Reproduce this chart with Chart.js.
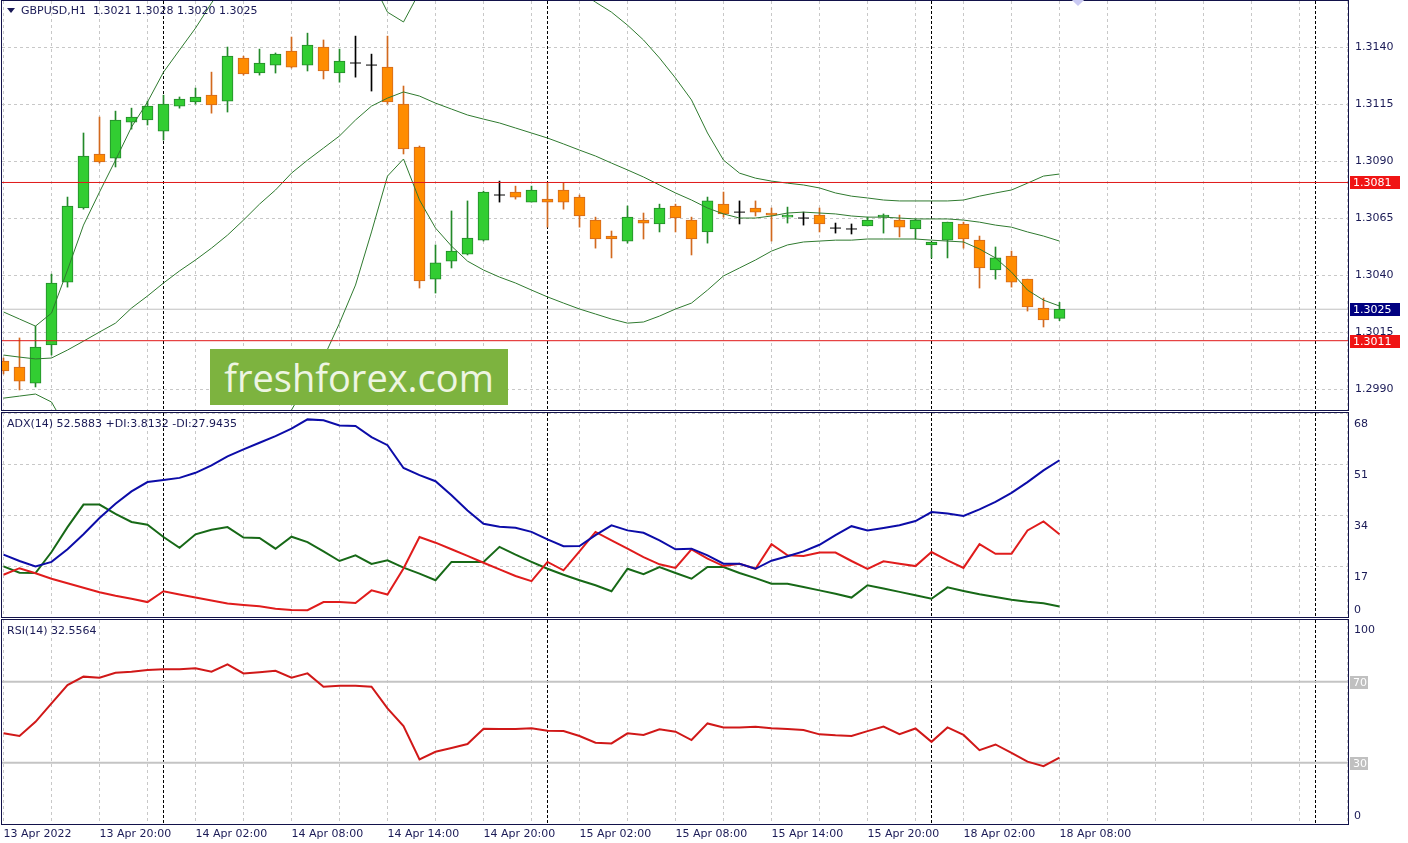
<!DOCTYPE html>
<html>
<head>
<meta charset="utf-8">
<title>GBPUSD,H1</title>
<script src="https://cdn.jsdelivr.net/npm/chart.js@4.4.1/dist/chart.umd.min.js"></script>
<style>
  html, body { margin:0; padding:0; background:#ffffff; }
  body { width:1408px; height:843px; position:relative; overflow:hidden; font-family:"DejaVu Sans", sans-serif; }
  canvas { position:absolute; left:0; }
  #mainCanvas { top:0; }
  #adxCanvas { top:412px; }
  #rsiCanvas { top:619px; }
  .hdr { position:absolute; font-size:11px; line-height:13px; color:#1a1a56; white-space:pre; }
  #tri { position:absolute; left:7px; top:8px; width:0; height:0; border-left:4px solid transparent; border-right:4px solid transparent; border-top:5px solid #1a1a56; }
  #wm { position:absolute; left:210px; top:349px; width:298px; height:56px; background:#7db33f; color:#eef5e2; font-family:"Open Sans", sans-serif; font-size:38px; display:flex; align-items:center; justify-content:center; }
  #obj { position:absolute; left:1073px; top:-6px; width:10px; height:10px; background:#c9c9f2; transform:rotate(45deg); }
</style>
</head>
<body>
<canvas id="mainCanvas" width="1408" height="412"></canvas>
<canvas id="adxCanvas" width="1408" height="207"></canvas>
<canvas id="rsiCanvas" width="1408" height="224"></canvas>
<div id="tri"></div>
<div class="hdr" id="mainHdr" style="left:21px;top:4px;"></div>
<div class="hdr" id="adxHdr" style="left:7px;top:417px;"></div>
<div class="hdr" id="rsiHdr" style="left:7px;top:624px;"></div>
<div id="wm">freshforex.com</div>
<div id="obj"></div>
<script>
// ---------------- DATA ----------------
const symbol = 'GBPUSD,H1';
// hourly bars, bar 0 = 13 Apr 2022 14:00 ... bar 66 = 18 Apr 08:00
const tickBars   = [0, 6, 12, 18, 24, 30, 36, 42, 48, 54, 60, 66];
const tickLabels = ['13 Apr 2022','13 Apr 20:00','14 Apr 02:00','14 Apr 08:00','14 Apr 14:00','14 Apr 20:00',
                    '15 Apr 02:00','15 Apr 08:00','15 Apr 14:00','15 Apr 20:00','18 Apr 02:00','18 Apr 08:00'];
const daySeparatorBars = [10, 34, 58, 82];

const open = [
 1.30023,1.29996,1.29926,1.30093,1.30369,1.30694,1.30931,1.30913,1.31071,1.31080,
 1.31031,1.31141,1.31159,1.31189,1.31163,1.31352,1.31286,1.31321,1.31382,1.31321,
 1.31400,1.31286,1.31330,1.31321,1.31312,1.31150,1.30961,1.30382,1.30461,1.30492,
 1.30553,1.30751,1.30764,1.30720,1.30733,1.30773,1.30742,1.30641,1.30571,1.30549,
 1.30641,1.30624,1.30703,1.30641,1.30589,1.30711,1.30676,1.30694,1.30672,1.30654,
 1.30650,1.30663,1.30606,1.30602,1.30615,1.30654,1.30641,1.30602,1.30532,1.30553,
 1.30624,1.30553,1.30422,1.30483,1.30382,1.30255,1.30210];
const high = [
 1.30036,1.30124,1.30176,1.30404,1.30742,1.31023,1.31093,1.31119,1.31132,1.31163,
 1.31189,1.31181,1.31220,1.31290,1.31400,1.31360,1.31391,1.31374,1.31444,1.31461,
 1.31431,1.31391,1.31448,1.31369,1.31448,1.31229,1.30966,1.30532,1.30681,1.30725,
 1.30768,1.30812,1.30790,1.30790,1.30803,1.30803,1.30751,1.30654,1.30593,1.30703,
 1.30672,1.30711,1.30711,1.30654,1.30742,1.30764,1.30725,1.30725,1.30694,1.30698,
 1.30676,1.30694,1.30628,1.30624,1.30654,1.30668,1.30663,1.30646,1.30545,1.30632,
 1.30632,1.30571,1.30523,1.30505,1.30382,1.30299,1.30280];
const low = [
 1.29966,1.29896,1.29909,1.30049,1.30347,1.30689,1.30891,1.30874,1.31040,1.31058,
 1.30992,1.31132,1.31150,1.31110,1.31115,1.31277,1.31277,1.31286,1.31308,1.31295,
 1.31260,1.31246,1.31268,1.31207,1.31150,1.30931,1.30343,1.30321,1.30431,1.30488,
 1.30549,1.30720,1.30733,1.30720,1.30610,1.30689,1.30610,1.30518,1.30475,1.30540,
 1.30558,1.30589,1.30589,1.30488,1.30540,1.30654,1.30624,1.30659,1.30549,1.30628,
 1.30619,1.30589,1.30584,1.30580,1.30615,1.30584,1.30567,1.30558,1.30475,1.30475,
 1.30518,1.30343,1.30382,1.30347,1.30242,1.30172,1.30200];
const close = [
 1.29979,1.29935,1.30084,1.30365,1.30703,1.30922,1.30896,1.31080,1.31093,1.31141,
 1.31150,1.31172,1.31181,1.31146,1.31360,1.31282,1.31330,1.31369,1.31312,1.31409,
 1.31295,1.31339,1.31330,1.31321,1.31159,1.30953,1.30374,1.30453,1.30505,1.30562,
 1.30764,1.30751,1.30742,1.30773,1.30720,1.30720,1.30659,1.30558,1.30558,1.30654,
 1.30628,1.30694,1.30650,1.30558,1.30725,1.30668,1.30676,1.30676,1.30663,1.30663,
 1.30650,1.30624,1.30606,1.30602,1.30641,1.30663,1.30610,1.30641,1.30545,1.30632,
 1.30558,1.30431,1.30475,1.30369,1.30260,1.30203,1.30250];

const bbUpper = [
 1.30238,1.30207,1.30176,1.30233,1.30422,1.30619,1.30764,1.30904,1.31049,1.31159,
 1.31290,1.31387,1.31483,1.31593,1.31694,1.31760,1.31812,1.31847,1.31887,1.31878,
 1.31878,1.31830,1.31804,1.31694,1.31553,1.31510,1.31641,1.31703,1.31729,1.31742,
 1.31746,1.31742,1.31725,1.31711,1.31698,1.31672,1.31646,1.31597,1.31553,1.31496,
 1.31431,1.31352,1.31264,1.31168,1.31023,1.30904,1.30847,1.30825,1.30812,1.30803,
 1.30795,1.30782,1.30760,1.30746,1.30738,1.30729,1.30725,1.30725,1.30725,1.30725,
 1.30729,1.30746,1.30760,1.30773,1.30803,1.30834,1.30843];
const bbMiddle = [
 1.30049,1.30040,1.30032,1.30036,1.30071,1.30110,1.30150,1.30189,1.30255,1.30308,
 1.30365,1.30418,1.30466,1.30518,1.30575,1.30641,1.30711,1.30773,1.30847,1.30904,
 1.30957,1.31010,1.31080,1.31141,1.31176,1.31203,1.31185,1.31154,1.31128,1.31102,
 1.31084,1.31067,1.31045,1.31023,1.31001,1.30975,1.30948,1.30922,1.30891,1.30861,
 1.30830,1.30795,1.30760,1.30729,1.30694,1.30668,1.30650,1.30650,1.30659,1.30672,
 1.30676,1.30672,1.30668,1.30659,1.30654,1.30654,1.30650,1.30646,1.30646,1.30646,
 1.30641,1.30632,1.30619,1.30610,1.30589,1.30571,1.30549];
const bbLower = [
 1.29860,1.29869,1.29878,1.29843,1.29720,1.29602,1.29536,1.29475,1.29461,1.29457,
 1.29439,1.29448,1.29448,1.29435,1.29457,1.29523,1.29611,1.29698,1.29808,1.29931,
 1.30036,1.30189,1.30356,1.30589,1.30834,1.30909,1.30729,1.30606,1.30527,1.30461,
 1.30422,1.30391,1.30365,1.30334,1.30304,1.30277,1.30251,1.30229,1.30207,1.30189,
 1.30194,1.30220,1.30251,1.30277,1.30334,1.30396,1.30431,1.30466,1.30505,1.30532,
 1.30545,1.30549,1.30553,1.30553,1.30558,1.30558,1.30558,1.30558,1.30553,1.30549,
 1.30545,1.30514,1.30475,1.30413,1.30334,1.30290,1.30264];

const adx = [
 21.1,19.0,17.2,18.7,22.9,27.9,33.3,38.1,42.2,45.3,
 46.0,46.7,48.4,50.9,53.9,56.2,58.4,60.6,63.1,66.2,
 65.9,64.2,64.0,60.3,57.6,50.0,47.6,45.6,40.9,35.8,
 31.4,30.4,30.1,28.7,26.2,23.9,24.0,27.6,30.9,29.2,
 28.4,25.9,22.9,23.1,20.9,18.1,18.1,16.4,19.1,20.6,
 22.2,24.4,27.6,30.6,29.2,30.0,30.9,32.3,35.3,34.8,
 34.0,36.2,38.7,41.7,45.3,49.2,52.5883];
const plusDI = [
 17.2,15.1,15.0,22.0,30.3,37.8,37.8,34.7,32.0,31.1,
 27.0,23.4,27.9,29.4,30.3,26.8,26.7,23.1,27.1,25.3,
 22.2,19.0,20.9,18.0,19.2,16.8,14.8,12.6,18.7,18.7,
 18.7,23.7,21.1,18.7,16.4,14.4,12.6,10.9,8.9,16.4,
 14.6,17.0,15.0,13.1,17.0,17.0,15.0,13.3,11.4,11.4,
 10.3,9.2,8.1,6.8,10.9,9.8,8.7,7.6,6.4,10.2,
 9.0,7.9,7.0,6.1,5.4,4.9,3.8132];
const minusDI = [
 14.4,16.6,14.9,13.1,11.6,10.1,8.6,7.4,6.4,5.3,
 8.9,7.8,6.8,5.8,4.8,4.3,3.9,3.1,2.7,2.6,
 5.3,5.3,5.0,9.2,7.8,16.5,27.0,25.1,22.9,20.7,
 18.4,16.2,14.0,12.3,18.7,15.9,22.2,28.7,25.9,23.1,
 20.3,17.9,16.7,22.9,19.8,17.3,18.1,16.4,24.6,20.9,
 20.7,21.8,21.8,19.0,16.4,18.9,18.1,17.3,22.0,19.2,
 16.7,24.6,21.4,21.4,29.2,32.2,27.9435];
const rsi = [
 44.5,43.2,50.2,59.3,68.3,72.5,72.0,74.4,74.9,75.8,
 76.1,76.1,76.6,74.9,78.6,74.1,74.7,75.4,72.0,74.1,
 67.5,68.0,68.0,67.5,56.8,48.1,31.6,35.4,37.3,39.2,
 46.8,46.6,46.6,47.0,45.8,45.6,43.2,39.9,39.5,44.5,
 43.7,46.5,45.3,41.2,49.4,47.4,47.4,47.8,47.0,46.6,
 46.1,44.0,43.5,43.2,45.6,47.8,44.1,46.9,40.3,47.4,
 43.7,36.2,39.0,34.9,30.5,28.3,32.5564];

const priceTicks  = [1.2990, 1.3015, 1.3040, 1.3065, 1.3090, 1.3115, 1.3140];
const hLineLevels = [1.30806, 1.30112];
const bidPrice    = 1.3025;
const adxTicks    = [17, 34, 51, 68];
const rsiLevels   = [70, 30];

// axis ranges
const X_MIN = -0.09375, X_MAX = 84.03125;
const PRICE_MIN = 1.29808, PRICE_MAX = 1.31602;
const ADX_MIN = 0.33, ADX_MAX = 68.33;
const RSI_MIN = -0.27, RSI_MAX = 100.47;

// ---------------- STYLE ----------------
const FONT = { family: 'DejaVu Sans', size: 11 };
const TEXT = '#1a1a56';
const GRID = '#c8c8c8';
const FRAME = '#12124a';
const BULL_FILL = '#32cd32', BULL_LINE = '#23892a';
const BEAR_FILL = '#ff8c00', BEAR_LINE = '#d2691e';
const BB_COLOR = '#2f7a2f';
const LEVEL_RED = '#e01818';

// ---------------- BUILD ----------------
const last = open.length - 1;
document.getElementById('mainHdr').textContent =
  symbol + '  ' + [open[last], high[last], low[last], close[last]].map(v => v.toFixed(4)).join(' ');
document.getElementById('adxHdr').textContent =
  'ADX(14) ' + adx[last].toFixed(4) + ' +DI:' + plusDI[last].toFixed(4) + ' -DI:' + minusDI[last].toFixed(4);
document.getElementById('rsiHdr').textContent = 'RSI(14) ' + rsi[last].toFixed(4);

const idx = open.map((_, i) => i);
const isDoji = i => open[i] === close[i];
const series = arr => arr.map((v, i) => ({ x: i, y: v }));
const hline = v => [{ x: X_MIN, y: v }, { x: X_MAX, y: v }];

const wickData = idx.map(i => ({ x: i, y: [low[i], high[i]] }));
const wickColors = idx.map(i => isDoji(i) ? '#000000' : (close[i] > open[i] ? BULL_LINE : BEAR_LINE));
const bodyIdx = idx.filter(i => !isDoji(i));
const bodyData = bodyIdx.map(i => ({ x: i, y: [open[i], close[i]] }));
const bodyFill = bodyIdx.map(i => close[i] > open[i] ? BULL_FILL : BEAR_FILL);
const bodyLine = bodyIdx.map(i => close[i] > open[i] ? BULL_LINE : BEAR_LINE);
const dojiData = idx.filter(isDoji).map(i => ({ x: i, y: open[i] }));

const gridBars = [];
for (let b = 0; b <= 84; b += 3) gridBars.push(b);

function xAxis(withLabels) {
  return {
    type: 'linear', min: X_MIN, max: X_MAX, offset: false,
    afterBuildTicks: s => { s.ticks = gridBars.map(v => ({ value: v })); },
    grid: { display: true, color: GRID, lineWidth: 1, drawTicks: false, offset: false },
    border: { display: false, dash: [3, 3] },
    ticks: withLabels ? {
      display: true, autoSkip: false, maxRotation: 0, minRotation: 0, align: 'start',
      padding: 4, color: TEXT, font: FONT,
      callback: v => { const k = tickBars.indexOf(v); return k >= 0 ? tickLabels[k] : ''; }
    } : { display: false },
    afterFit: s => { s.height = withLabels ? 19 : 0; s.paddingLeft = 0; s.paddingRight = 0; }
  };
}

function decorPlugin(tags) {
  return {
    id: 'decor',
    beforeDatasetsDraw(chart) {
      const { ctx, chartArea: a } = chart; const xs = chart.scales.x;
      ctx.save();
      ctx.beginPath(); ctx.rect(a.left, a.top, a.right - a.left, a.bottom - a.top); ctx.clip();
      ctx.strokeStyle = '#000000'; ctx.lineWidth = 1; ctx.setLineDash([3, 2]);
      daySeparatorBars.forEach(b => {
        const px = Math.floor(xs.getPixelForValue(b)) + 0.5;
        ctx.beginPath(); ctx.moveTo(px, a.top); ctx.lineTo(px, a.bottom); ctx.stroke();
      });
      ctx.restore();
    },
    afterDraw(chart) {
      const { ctx, chartArea: a } = chart; const ys = chart.scales.y;
      ctx.save();
      ctx.strokeStyle = FRAME; ctx.lineWidth = 1; ctx.setLineDash([]);
      ctx.strokeRect(a.left - 0.5, a.top - 0.5, a.right - a.left + 1, a.bottom - a.top + 1);
      ctx.font = '11px "DejaVu Sans"'; ctx.textBaseline = 'middle'; ctx.textAlign = 'left';
      tags.forEach(t => {
        const py = Math.round(ys.getPixelForValue(t.value)) + (t.dy || 0);
        if (t.bg) {
          ctx.fillStyle = t.bg; ctx.fillRect(a.right + 2, py - 6, t.w, 13);
          ctx.fillStyle = t.fg; ctx.fillText(t.text, a.right + 5, py + 1);
        } else {
          ctx.fillStyle = TEXT; ctx.fillText(t.text, a.right + 6, py);
        }
      });
      ctx.restore();
    }
  };
}

const common = {
  responsive: false, animation: false, events: [],
  plugins: { legend: { display: false }, tooltip: { enabled: false } }
};

// ---- main price pane ----
new Chart(document.getElementById('mainCanvas'), {
  type: 'bar',
  data: {
    datasets: [
      { type: 'line', label: 'Line 1', data: hline(hLineLevels[0]), borderColor: LEVEL_RED, borderWidth: 1, pointRadius: 0, order: 0 },
      { type: 'line', label: 'Line 2', data: hline(hLineLevels[1]), borderColor: LEVEL_RED, borderWidth: 1, pointRadius: 0, order: 0 },
      { type: 'line', label: 'Bands upper', data: series(bbUpper), borderColor: BB_COLOR, borderWidth: 1, pointRadius: 0, tension: 0, order: 1 },
      { type: 'line', label: 'Bands middle', data: series(bbMiddle), borderColor: BB_COLOR, borderWidth: 1, pointRadius: 0, tension: 0, order: 1 },
      { type: 'line', label: 'Bands lower', data: series(bbLower), borderColor: BB_COLOR, borderWidth: 1, pointRadius: 0, tension: 0, order: 1 },
      { type: 'line', label: 'Doji', data: dojiData, showLine: false, pointStyle: 'line', pointRadius: 5.5, pointHoverRadius: 5.5,
        pointBorderColor: '#000000', pointBorderWidth: 1, borderColor: '#000000', order: 2 },
      { type: 'bar', label: 'Body', data: bodyData, backgroundColor: bodyFill, borderColor: bodyLine, borderWidth: 1,
        borderSkipped: false, barThickness: 11, maxBarThickness: 11, grouped: false, order: 3 },
      { type: 'bar', label: 'Wick', data: wickData, backgroundColor: wickColors, borderWidth: 0,
        barThickness: 1, maxBarThickness: 1, grouped: false, order: 4 },
      { type: 'line', label: 'Bid', data: hline(bidPrice), borderColor: '#c0c0c0', borderWidth: 1, pointRadius: 0, order: 5 }
    ]
  },
  options: Object.assign({}, common, {
    layout: { autoPadding: false, padding: { left: 2, top: 1, right: 0, bottom: 2 } },
    scales: {
      x: xAxis(false),
      y: {
        type: 'linear', position: 'right', min: PRICE_MIN, max: PRICE_MAX, beginAtZero: false,
        afterBuildTicks: s => { s.ticks = priceTicks.map(v => ({ value: v })); },
        grid: { color: GRID, drawTicks: false },
        border: { display: false, dash: [3, 3] },
        ticks: { color: TEXT, font: FONT, padding: 7, callback: v => Number(v).toFixed(4) },
        afterFit: s => { s.width = 60; s.paddingTop = 0; s.paddingBottom = 0; }
      }
    }
  }),
  plugins: [decorPlugin([
    { value: hLineLevels[0], text: hLineLevels[0].toFixed(4), bg: '#f01414', fg: '#ffffff', w: 50 },
    { value: bidPrice, text: bidPrice.toFixed(4), bg: '#000080', fg: '#ffffff', w: 50 },
    { value: hLineLevels[1], text: hLineLevels[1].toFixed(4), bg: '#f01414', fg: '#ffffff', w: 50 }
  ])]
});

// ---- ADX pane ----
new Chart(document.getElementById('adxCanvas'), {
  type: 'line',
  data: {
    datasets: [
      { label: 'ADX', data: series(adx), borderColor: '#0c0ca8', borderWidth: 2, pointRadius: 0, tension: 0, order: 0 },
      { label: '-DI', data: series(minusDI), borderColor: '#e01c1c', borderWidth: 2, pointRadius: 0, tension: 0, order: 1 },
      { label: '+DI', data: series(plusDI), borderColor: '#176917', borderWidth: 2, pointRadius: 0, tension: 0, order: 2 }
    ]
  },
  options: Object.assign({}, common, {
    layout: { autoPadding: false, padding: { left: 2, top: 1, right: 0, bottom: 2 } },
    scales: {
      x: xAxis(false),
      y: {
        type: 'linear', position: 'right', min: ADX_MIN, max: ADX_MAX,
        afterBuildTicks: s => { s.ticks = adxTicks.map(v => ({ value: v })); },
        grid: { color: GRID, drawTicks: false },
        border: { display: false, dash: [3, 3] },
        ticks: { color: TEXT, font: FONT, padding: 6, labelOffset: 10, callback: v => String(v) },
        afterFit: s => { s.width = 60; s.paddingTop = 0; s.paddingBottom = 0; }
      }
    }
  }),
  plugins: [decorPlugin([{ value: 0, text: '0', dy: -8 }])]
});

// ---- RSI pane ----
new Chart(document.getElementById('rsiCanvas'), {
  type: 'line',
  data: {
    datasets: [
      { label: 'RSI', data: series(rsi), borderColor: '#d01818', borderWidth: 2, pointRadius: 0, tension: 0, order: 0 },
      { label: 'Level 70', data: hline(rsiLevels[0]), borderColor: '#c4c4c4', borderWidth: 2, pointRadius: 0, order: 1 },
      { label: 'Level 30', data: hline(rsiLevels[1]), borderColor: '#c4c4c4', borderWidth: 2, pointRadius: 0, order: 1 }
    ]
  },
  options: Object.assign({}, common, {
    layout: { autoPadding: false, padding: { left: 2, top: 1, right: 0, bottom: 0 } },
    scales: {
      x: xAxis(true),
      y: {
        type: 'linear', position: 'right', min: RSI_MIN, max: RSI_MAX,
        afterBuildTicks: s => { s.ticks = []; },
        grid: { display: false },
        border: { display: false },
        ticks: { display: false },
        afterFit: s => { s.width = 60; s.paddingTop = 0; s.paddingBottom = 0; }
      }
    }
  }),
  plugins: [decorPlugin([
    { value: 100, text: '100', dy: 9 },
    { value: rsiLevels[0], text: String(rsiLevels[0]), bg: '#c0c0c0', fg: '#ffffff', w: 18 },
    { value: rsiLevels[1], text: String(rsiLevels[1]), bg: '#c0c0c0', fg: '#ffffff', w: 18 },
    { value: 0, text: '0', dy: -7 }
  ])]
});
</script>
</body>
</html>
